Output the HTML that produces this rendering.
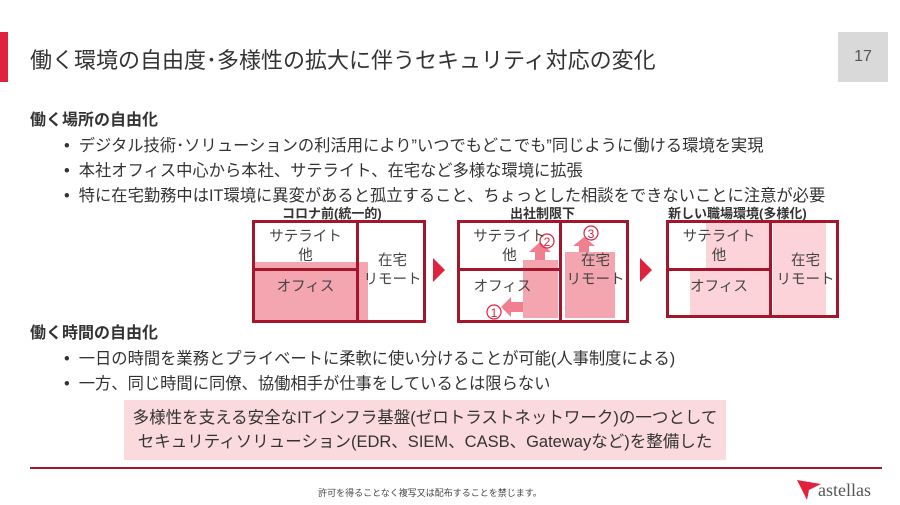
<!DOCTYPE html>
<html><head><meta charset="utf-8"><style>
body{margin:0;width:900px;height:505px;background:#fff;position:relative;overflow:hidden;font-family:"Liberation Sans","Noto Sans CJK JP",sans-serif;color:#333}
.a{position:absolute;white-space:nowrap}
.b{position:absolute;border:3px solid #a3162b;box-sizing:border-box}
.p{position:absolute;background:#f4a6b0}
.lp{position:absolute;background:#fbd3d8}
.t{position:absolute;font-size:14.5px;color:#444;text-align:center;line-height:19px}
.tri{position:absolute;width:0;height:0;border-top:12px solid transparent;border-bottom:12px solid transparent;border-left:12px solid #e0223f}
.bl{position:absolute;white-space:nowrap;font-size:16.3px;left:64px}
</style></head><body>
<div class="a" style="left:0;top:32px;width:8px;height:50px;background:#e0223f"></div>
<div class="a" style="left:30px;top:43px;font-size:22px;color:#333">働く環境の自由度･多様性の拡大に伴うセキュリティ対応の変化</div>
<div class="a" style="left:838px;top:32px;width:50px;height:50px;background:#d9d9d9;font-size:16px;line-height:50px;text-align:center;color:#555">17</div>

<div class="a" style="left:30px;top:106px;font-size:16px;font-weight:bold;color:#333">働く場所の自由化</div>
<div class="bl" style="top:132px">•&nbsp;&nbsp;デジタル技術･ソリューションの利活用により”いつでもどこでも”同じように働ける環境を実現</div>
<div class="bl" style="top:157px">•&nbsp;&nbsp;本社オフィス中心から本社、サテライト、在宅など多様な環境に拡張</div>
<div class="bl" style="top:182px">•&nbsp;&nbsp;特に在宅勤務中はIT環境に異変があると孤立すること、ちょっとした相談をできないことに注意が必要</div>

<!-- diagram 1 -->
<div class="a" style="left:282px;top:203px;font-size:13px;font-weight:bold">コロナ前(統一的)</div>
<div class="p" style="left:252px;top:262px;width:116px;height:61px"></div>
<div class="b" style="left:252px;top:220px;width:174px;height:103px"></div>
<div class="b" style="left:252px;top:220px;width:107px;height:103px"></div>
<div class="b" style="left:252px;top:268px;width:107px;height:55px"></div>
<div class="t" style="left:252px;top:228px;width:107px">サテライト<br>他</div>
<div class="t" style="left:252px;top:278px;width:107px">オフィス</div>
<div class="t" style="left:359px;top:252px;width:67px">在宅<br>リモート</div>
<div class="tri" style="left:433px;top:258px"></div>

<!-- diagram 2 -->
<div class="a" style="left:510px;top:203px;font-size:13px;font-weight:bold">出社制限下</div>
<div class="p" style="left:523px;top:260px;width:35px;height:58px"></div>
<div class="p" style="left:565px;top:252px;width:50px;height:66px"></div>
<div class="b" style="left:457px;top:220px;width:172px;height:103px"></div>
<div class="b" style="left:457px;top:220px;width:105px;height:103px"></div>
<div class="b" style="left:457px;top:268px;width:105px;height:55px"></div>
<svg class="a" style="left:457px;top:220px" width="172" height="103">
<path d="M72 40 h6 v-8 h-6 l11 -10 l11 10 h-6 v8 h6 z" fill="#f08090"/>
<path d="M116 32 h6 v-6 h-6 l11 -9 l11 9 h-6 v6z" fill="#f08090"/>
<path d="M66 92 v-10 h-12 v-5 l-10 10 l10 10 v-5z" fill="#f08090"/>
<circle cx="90" cy="21" r="7" fill="none" stroke="#e0223f" stroke-width="1.2"/><text x="90" y="26" font-size="12" text-anchor="middle" fill="#e0223f">2</text>
<circle cx="134" cy="13" r="7" fill="none" stroke="#e0223f" stroke-width="1.2"/><text x="134" y="18" font-size="12" text-anchor="middle" fill="#e0223f">3</text>
<circle cx="37" cy="92" r="7" fill="none" stroke="#e0223f" stroke-width="1.2"/><text x="37" y="97" font-size="12" text-anchor="middle" fill="#e0223f">1</text>
</svg>
<div class="t" style="left:457px;top:228px;width:105px">サテライト<br>他</div>
<div class="t" style="left:450px;top:278px;width:105px">オフィス</div>
<div class="t" style="left:562px;top:252px;width:67px">在宅<br>リモート</div>
<div class="tri" style="left:640px;top:258px"></div>

<!-- diagram 3 -->
<div class="a" style="left:668px;top:203px;font-size:13px;font-weight:bold">新しい職場環境(多様化)</div>
<div class="lp" style="left:706px;top:222px;width:64px;height:48px"></div>
<div class="lp" style="left:690px;top:270px;width:80px;height:48px"></div>
<div class="lp" style="left:773px;top:222px;width:53px;height:96px"></div>
<div class="b" style="left:666px;top:220px;width:173px;height:98px"></div>
<div class="b" style="left:666px;top:220px;width:106px;height:98px"></div>
<div class="b" style="left:666px;top:268px;width:106px;height:50px"></div>
<div class="t" style="left:666px;top:228px;width:106px">サテライト<br>他</div>
<div class="t" style="left:666px;top:278px;width:106px">オフィス</div>
<div class="t" style="left:772px;top:252px;width:67px">在宅<br>リモート</div>

<div class="a" style="left:30px;top:319px;font-size:16px;font-weight:bold">働く時間の自由化</div>
<div class="bl" style="top:345px">•&nbsp;&nbsp;一日の時間を業務とプライベートに柔軟に使い分けることが可能(人事制度による)</div>
<div class="bl" style="top:370px">•&nbsp;&nbsp;一方、同じ時間に同僚、協働相手が仕事をしているとは限らない</div>

<div class="a" style="left:124px;top:400px;width:602px;height:60px;background:#fadadd;font-size:16.5px;line-height:24px;text-align:center;padding-top:6px;box-sizing:border-box;color:#333">多様性を支える安全なITインフラ基盤(ゼロトラストネットワーク)の一つとして<br>セキュリティソリューション(EDR、SIEM、CASB、Gatewayなど)を整備した</div>
<div class="a" style="left:30px;top:467px;width:852px;height:2px;background:#a3162b"></div>
<div class="a" style="left:0;top:486px;width:860px;text-align:center;font-size:9px;color:#444">許可を得ることなく複写又は配布することを禁じます。</div>
<svg class="a" style="left:795px;top:472px" width="30" height="30"><path d="M2 8 L26 12 L14 18 L12 28 Z" fill="#e0223f"/></svg>
<div class="a" style="left:818px;top:480px;font-size:18px;font-family:'Liberation Serif',serif;color:#555">astellas</div>
</body></html>
